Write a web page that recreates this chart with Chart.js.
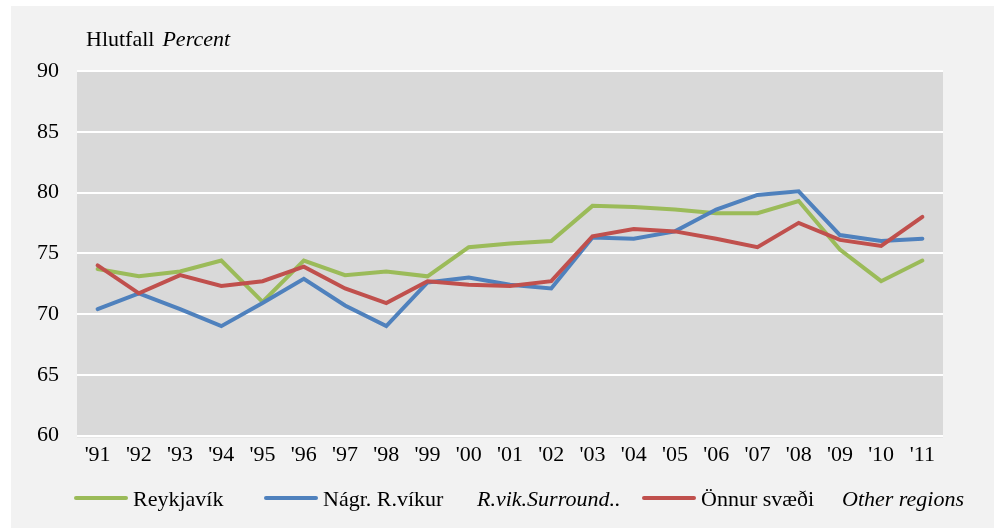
<!DOCTYPE html>
<html>
<head>
<meta charset="utf-8">
<script src="https://cdn.jsdelivr.net/npm/chart.js@4"></script>
<style>
  html, body { margin: 0; padding: 0; background: #ffffff; }
  #wrap { width: 997px; height: 528px; }
</style>
</head>
<body>
<div id="wrap"><canvas id="shareChart" width="997" height="528"></canvas></div>
<script>
// years on the x axis
const years = ["'91", "'92", "'93", "'94", "'95", "'96", "'97", "'98", "'99", "'00",
  "'01", "'02", "'03", "'04", "'05", "'06", "'07", "'08", "'09", "'10", "'11"];

// Reykjavík
const reykjavik = [73.7, 73.1, 73.5, 74.4, 71.0, 74.4, 73.2, 73.5, 73.1, 75.5,
  75.8, 76.0, 78.9, 78.8, 78.6, 78.3, 78.3, 79.3, 75.3, 72.7, 74.4];
// Nágr. R.víkur
const nagrennid = [70.4, 71.7, 70.4, 69.0, 70.9, 72.9, 70.7, 69.0, 72.6, 73.0,
  72.4, 72.1, 76.3, 76.2, 76.8, 78.6, 79.8, 80.1, 76.5, 76.0, 76.2];
// Önnur svæði
const onnur = [74.0, 71.7, 73.2, 72.3, 72.7, 73.9, 72.1, 70.9, 72.7, 72.4,
  72.3, 72.7, 76.4, 77.0, 76.8, 76.2, 75.5, 77.5, 76.1, 75.6, 78.0];

const yTicks = [60, 65, 70, 75, 80, 85, 90];

const seriesNames = ['Reykjavík', 'Nágr. R.víkur', 'Önnur svæði'];
const seriesColors = ['#9bbb59', '#4f81bd', '#c0504d'];

// legend entries: name, colour (null = no line), italic, start x
const legendItems = [
  { text: seriesNames[0], color: seriesColors[0], italic: false, x: 74 },
  { text: seriesNames[1], color: seriesColors[1], italic: false, x: 264 },
  { text: 'R.vik.Surround..', color: null, italic: true, x: 477 },
  { text: seriesNames[2], color: seriesColors[2], italic: false, x: 642 },
  { text: 'Other regions', color: null, italic: true, x: 842 }
];

const FONT = '"Liberation Serif", "Times New Roman", serif';

// background panel, plot area, title and legend
const decor = {
  id: 'decor',
  beforeDraw(chart) {
    const ctx = chart.ctx;
    const a = chart.chartArea;
    ctx.save();
    ctx.fillStyle = '#ffffff';
    ctx.fillRect(0, 0, chart.width, chart.height);
    ctx.fillStyle = '#f2f2f2';
    ctx.fillRect(11, 6, 983, chart.height - 6);
    ctx.fillStyle = '#d9d9d9';
    ctx.fillRect(a.left, a.top - 1, a.right - a.left, a.bottom - a.top + 3);
    ctx.restore();
  },
  afterDraw(chart) {
    const ctx = chart.ctx;
    ctx.save();
    ctx.fillStyle = '#000000';
    ctx.textBaseline = 'alphabetic';
    ctx.font = '22px ' + FONT;
    ctx.fillText('Hlutfall', 86, 46);
    const w = ctx.measureText('Hlutfall').width;
    ctx.font = 'italic 22px ' + FONT;
    ctx.fillText('Percent', 86 + w + 8, 46);

    const ly = 498;
    legendItems.forEach(function (it) {
      let tx = it.x;
      if (it.color) {
        ctx.strokeStyle = it.color;
        ctx.lineWidth = 4;
        ctx.lineCap = 'round';
        ctx.beginPath();
        ctx.moveTo(it.x + 2, ly);
        ctx.lineTo(it.x + 52, ly);
        ctx.stroke();
        tx = it.x + 59;
      }
      ctx.font = (it.italic ? 'italic ' : '') + '22px ' + FONT;
      ctx.fillStyle = '#000000';
      ctx.fillText(it.text, tx, 506);
    });
    ctx.restore();
  }
};

const ctxEl = document.getElementById('shareChart');

new Chart(ctxEl, {
  type: 'line',
  data: {
    labels: years,
    datasets: [
      { label: seriesNames[0], data: reykjavik, borderColor: seriesColors[0], order: 2 },
      { label: seriesNames[1], data: nagrennid, borderColor: seriesColors[1], order: 1 },
      { label: seriesNames[2], data: onnur, borderColor: seriesColors[2], order: 0 }
    ]
  },
  options: {
    responsive: false,
    animation: false,
    layout: { padding: { left: 0, right: 54, top: 71, bottom: 52.5 } },
    elements: {
      line: { borderWidth: 4, tension: 0, borderJoinStyle: 'miter', borderCapStyle: 'round' },
      point: { radius: 0, hoverRadius: 0 }
    },
    plugins: {
      legend: { display: false },
      title: { display: false },
      tooltip: { enabled: false }
    },
    scales: {
      x: {
        offset: true,
        grid: { display: false, drawTicks: false },
        border: { display: false },
        ticks: {
          color: '#000000',
          font: { family: FONT, size: 22 },
          padding: 7,
          maxRotation: 0,
          autoSkip: false
        },
        afterFit(scale) { scale.height = 40; }
      },
      y: {
        min: 60,
        max: 90,
        grid: { color: '#ffffff', lineWidth: 2, drawTicks: false },
        border: { display: false },
        afterBuildTicks(scale) { scale.ticks = yTicks.map(v => ({ value: v })); },
        ticks: {
          color: '#000000',
          font: { family: FONT, size: 22 },
          padding: 18
        },
        afterFit(scale) { scale.width = 77; }
      }
    }
  },
  plugins: [decor]
});
</script>
</body>
</html>
